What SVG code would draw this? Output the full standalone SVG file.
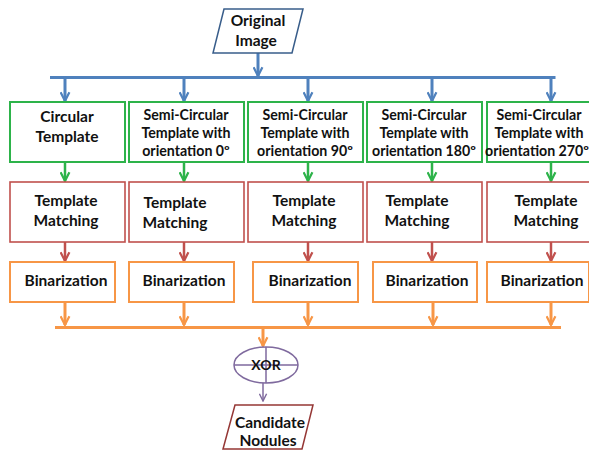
<svg xmlns="http://www.w3.org/2000/svg" width="589" height="450" viewBox="0 0 589 450">
<defs>
<style>
text{font-family:Lato,"Open Sans","Liberation Sans",sans-serif;font-weight:bold;font-size:15.5px;fill:#111;text-anchor:middle}
text.s{font-size:14.2px}
text.x{font-size:14px}
.g{fill:#fff;stroke:#2DB34A;stroke-width:2}
.r{fill:#fff;stroke:#C0504D;stroke-width:1.6}
.o{fill:#fff;stroke:#F79646;stroke-width:2}
.cb{stroke:#4F81BD;stroke-width:3;fill:none}
.cg{stroke:#2DB34A;stroke-width:2.5;fill:none}
.cr{stroke:#C0504D;stroke-width:2.5;fill:none}
.co{stroke:#F79646;stroke-width:3;fill:none}
.cp{stroke:#7F6A9E;stroke-width:1.5;fill:none}
</style>
<marker id="ab" viewBox="0 0 10 10" refX="9" refY="5" markerWidth="11" markerHeight="11" markerUnits="userSpaceOnUse" orient="auto"><path d="M1,1 L9,5 L1,9" fill="none" stroke="#4F81BD" stroke-width="2"/></marker>
<marker id="ag" viewBox="0 0 10 10" refX="9" refY="5" markerWidth="11" markerHeight="11" markerUnits="userSpaceOnUse" orient="auto"><path d="M1,1 L9,5 L1,9" fill="none" stroke="#2DB34A" stroke-width="2"/></marker>
<marker id="ar" viewBox="0 0 10 10" refX="9" refY="5" markerWidth="11" markerHeight="11" markerUnits="userSpaceOnUse" orient="auto"><path d="M1,1 L9,5 L1,9" fill="none" stroke="#C0504D" stroke-width="2"/></marker>
<marker id="ao" viewBox="0 0 10 10" refX="9" refY="5" markerWidth="11" markerHeight="11" markerUnits="userSpaceOnUse" orient="auto"><path d="M1,1 L9,5 L1,9" fill="none" stroke="#F79646" stroke-width="2"/></marker>
<marker id="ap" viewBox="0 0 10 10" refX="9" refY="5" markerWidth="9" markerHeight="9" markerUnits="userSpaceOnUse" orient="auto"><path d="M1,1 L9,5 L1,9" fill="none" stroke="#7F6A9E" stroke-width="1.6"/></marker>
</defs>

<g id="connectors">
<path class="cb" d="M258,53 V76" marker-end="url(#ab)"/>
<path class="cb" d="M50,77.5 H555.5"/>
<path class="cb" d="M65,77 V101" marker-end="url(#ab)"/>
<path class="cb" d="M184,77 V101" marker-end="url(#ab)"/>
<path class="cb" d="M308,77 V101" marker-end="url(#ab)"/>
<path class="cb" d="M432,77 V101" marker-end="url(#ab)"/>
<path class="cb" d="M551,77 V101" marker-end="url(#ab)"/>
<path class="cg" d="M65,162 V181" marker-end="url(#ag)"/>
<path class="cg" d="M184,162 V181" marker-end="url(#ag)"/>
<path class="cg" d="M308,162 V181" marker-end="url(#ag)"/>
<path class="cg" d="M432,162 V181" marker-end="url(#ag)"/>
<path class="cg" d="M551,162 V181" marker-end="url(#ag)"/>
<path class="cr" d="M65,242 V261" marker-end="url(#ar)"/>
<path class="cr" d="M184,242 V261" marker-end="url(#ar)"/>
<path class="cr" d="M308,242 V261" marker-end="url(#ar)"/>
<path class="cr" d="M432,242 V261" marker-end="url(#ar)"/>
<path class="cr" d="M551,242 V261" marker-end="url(#ar)"/>
<path class="co" d="M65,302 V325" marker-end="url(#ao)"/>
<path class="co" d="M184,302 V325" marker-end="url(#ao)"/>
<path class="co" d="M308,302 V325" marker-end="url(#ao)"/>
<path class="co" d="M433,302 V325" marker-end="url(#ao)"/>
<path class="co" d="M551,302 V325" marker-end="url(#ao)"/>
<path class="co" d="M55,327.5 H561"/>
<path class="co" d="M263,327 V346" marker-end="url(#ao)"/>
<path class="cp" d="M263,383 V401" marker-end="url(#ap)"/>
</g>

<g id="original-image">
<polygon points="224,9 303,9 292,53 213,53" fill="#fff" stroke="#385D8A" stroke-width="1.5"/>
<text x="258" y="26">Original</text>
<text x="256" y="46">Image</text>
</g>

<g id="circular-template"><rect class="g" x="10" y="102" width="115" height="60"/><text x="67" y="122">Circular</text><text x="67" y="142">Template</text></g>
<g id="semi-0"><rect class="g" x="129" y="102" width="115" height="60"/><text class="s" x="186" y="120">Semi-Circular</text><text class="s" x="186" y="138">Template with</text><text class="s" x="186" y="156">orientation 0º</text></g>
<g id="semi-90"><rect class="g" x="248" y="102" width="115" height="60"/><text class="s" x="305" y="120">Semi-Circular</text><text class="s" x="305" y="138">Template with</text><text class="s" x="305" y="156">orientation 90º</text></g>
<g id="semi-180"><rect class="g" x="367" y="102" width="115" height="60"/><text class="s" x="424" y="120">Semi-Circular</text><text class="s" x="424" y="138">Template with</text><text class="s" x="424" y="156">orientation 180º</text></g>
<g id="semi-270"><rect class="g" x="487" y="102" width="115" height="60"/><text class="s" x="539" y="120">Semi-Circular</text><text class="s" x="539" y="138">Template with</text><text class="s" x="537" y="156" font-size="13.8">orientation 270º</text></g>

<g id="tm-1"><rect class="r" x="10" y="182" width="115" height="60"/><text x="66" y="206">Template</text><text x="66" y="226">Matching</text></g>
<g id="tm-2"><rect class="r" x="129" y="182" width="115" height="60"/><text x="175" y="208">Template</text><text x="175" y="228">Matching</text></g>
<g id="tm-3"><rect class="r" x="248" y="182" width="115" height="60"/><text x="304" y="206">Template</text><text x="304" y="226">Matching</text></g>
<g id="tm-4"><rect class="r" x="367" y="182" width="115" height="60"/><text x="417" y="206">Template</text><text x="417" y="226">Matching</text></g>
<g id="tm-5"><rect class="r" x="487" y="182" width="115" height="60"/><text x="546" y="206">Template</text><text x="546" y="226">Matching</text></g>

<g id="bin-1"><rect class="o" x="10" y="262" width="105" height="40"/><text x="66" y="286">Binarization</text></g>
<g id="bin-2"><rect class="o" x="129" y="262" width="105" height="40"/><text x="184" y="286">Binarization</text></g>
<g id="bin-3"><rect class="o" x="253" y="262" width="105" height="40"/><text x="310" y="286">Binarization</text></g>
<g id="bin-4"><rect class="o" x="373" y="262" width="104" height="40"/><text x="427" y="286">Binarization</text></g>
<g id="bin-5"><rect class="o" x="487" y="262" width="102" height="40"/><text x="542" y="286">Binarization</text></g>

<g id="xor">
<ellipse cx="266" cy="365" rx="32" ry="18" fill="#fff" stroke="#7F6A9E" stroke-width="1.5"/>
<path d="M234,365 H298 M266,347 V383" stroke="#7F6A9E" stroke-width="1.5"/>
<text class="x" x="266" y="370">XOR</text>
</g>

<g id="candidate-nodules">
<polygon points="235,405 313,405 302,449 223,449" fill="#fff" stroke="#953735" stroke-width="1.5"/>
<text x="270" y="428">Candidate</text>
<text x="268" y="446">Nodules</text>
</g>
</svg>
